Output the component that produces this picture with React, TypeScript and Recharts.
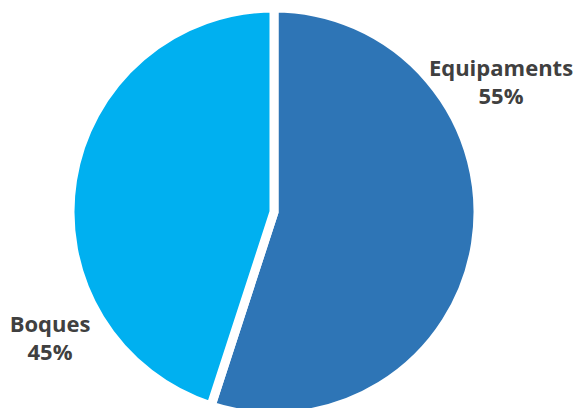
import { Cell, Pie, PieChart } from "recharts";

const categories = ["Equipaments", "Boques"];
const shares = [55, 45];
const colors = ["#2E75B6", "#00B0F0"];

const data = categories.map((name, i) => ({ name, value: shares[i] }));

// label anchor points (chart coords), Excel "best fit" placement
const labelPos = [
  { x: 493, y: 68 },
  { x: 42, y: 324 },
];

function renderLabel({ index }: { index: number }) {
  const p = labelPos[index];
  return (
    <text
      x={p.x}
      y={p.y}
      textAnchor="middle"
      fill="#404040"
      fontFamily="'Open Sans', sans-serif"
      fontWeight={700}
      fontSize={22}
    >
      <tspan x={p.x}>{categories[index]}</tspan>
      <tspan x={p.x} dy={28}>
        {shares[index]}%
      </tspan>
    </text>
  );
}

export default function App() {
  return (
    <PieChart width={573} height={400} margin={{ top: 0, right: 0, bottom: 0, left: 0 }}>
      <Pie
        data={data}
        dataKey="value"
        nameKey="name"
        cx={266}
        cy={204}
        outerRadius={204}
        startAngle={90}
        endAngle={-270}
        stroke="#ffffff"
        strokeWidth={9}
        label={renderLabel}
        labelLine={false}
        isAnimationActive={false}
      >
        {data.map((d, i) => (
          <Cell key={d.name} fill={colors[i]} />
        ))}
      </Pie>
    </PieChart>
  );
}
